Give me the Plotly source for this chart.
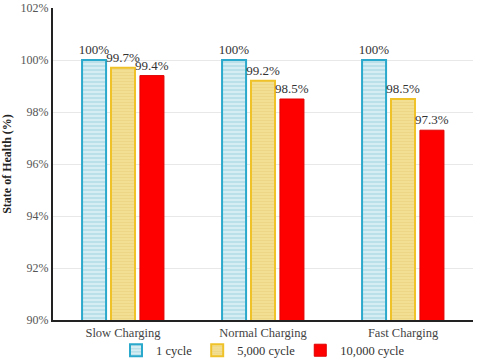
import plotly.graph_objects as go

# data
categories = ["Slow Charging", "Normal Charging", "Fast Charging"]
series_names = ["1 cycle", "5,000 cycle", "10,000 cycle"]
soh_1 = [100.0, 100.0, 100.0]
soh_5000 = [99.7, 99.2, 98.5]
soh_10000 = [99.4, 98.5, 97.3]
label_1 = ["100%", "100%", "100%"]
label_5000 = ["99.7%", "99.2%", "98.5%"]
label_10000 = ["99.4%", "98.5%", "97.3%"]
y_ticks = [90, 92, 94, 96, 98, 100, 102]

FONT = "Liberation Serif, Times New Roman, serif"

fig = go.Figure()

fig.add_trace(go.Bar(
    x=categories, y=soh_1, name=series_names[0],
    text=label_1, textposition="outside", cliponaxis=False,
    marker=dict(
        color="#d6eef3",
        line=dict(color="#2aa9cc", width=2),
        pattern=dict(shape="-", bgcolor="#d6eef3", fgcolor="#86c6d6",
                     size=4, solidity=0.35),
    ),
))
fig.add_trace(go.Bar(
    x=categories, y=soh_5000, name=series_names[1],
    text=label_5000, textposition="outside", cliponaxis=False,
    marker=dict(
        color="#f3df94",
        line=dict(color="#efc22a", width=2),
        pattern=dict(shape="-", bgcolor="#f3df94", fgcolor="#e6cf78",
                     size=3, solidity=0.3),
    ),
))
fig.add_trace(go.Bar(
    x=categories, y=soh_10000, name=series_names[2],
    text=label_10000, textposition="outside", cliponaxis=False,
    marker=dict(color="#ff0000", line=dict(color="#e00000", width=1)),
))

label_font = dict(family=FONT, size=13, color="#333333")
fig.update_traces(textfont=label_font, outsidetextfont=label_font,
                  constraintext="none")

fig.update_layout(
    width=480, height=361,
    margin=dict(l=53, r=7, t=8, b=41, autoexpand=False),
    plot_bgcolor="white", paper_bgcolor="white",
    barmode="group", bargap=0.38, bargroupgap=0.17,
    font=dict(family=FONT, size=12, color="#444444"),
    showlegend=True,
    legend=dict(orientation="h", x=0.5, xanchor="center",
                y=-0.05, yanchor="top", bgcolor="rgba(0,0,0,0)",
                font=dict(family=FONT, size=12.5, color="#333333"),
                itemwidth=30, tracegroupgap=0),
)
fig.update_xaxes(
    showline=True, linecolor="#222222", linewidth=2,
    tickfont=dict(family=FONT, size=12.5, color="#444444"),
    ticks="", showgrid=False, automargin=False,
)
fig.update_yaxes(
    range=[90, 102], tickvals=y_ticks,
    ticktext=[f"{v}%" for v in y_ticks],
    showline=True, linecolor="#222222", linewidth=2,
    showgrid=True, gridcolor="#e8e8e8", gridwidth=1,
    zeroline=False, ticks="", automargin=False,
    tickfont=dict(family=FONT, size=12, color="#555555"),
    title=dict(text="<b>State of Health (%)</b>", standoff=6,
               font=dict(family=FONT, size=12, color="#222222")),
)

# page body has a default 8px margin; drop it so the figure sits at 0,0
fig.write_html("out.html", config={"displayModeBar": False},
               post_script="document.body.style.margin='0';")
